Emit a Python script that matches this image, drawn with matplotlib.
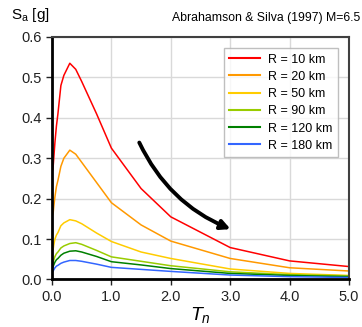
import numpy as np
import matplotlib
matplotlib.use("Agg")
import matplotlib.pyplot as plt
from matplotlib.patches import FancyArrowPatch

plt.rcParams['font.family'] = ['Liberation Sans', 'DejaVu Sans']
plt.rcParams['mathtext.fontset'] = 'custom'
plt.rcParams['mathtext.rm'] = 'Liberation Sans'
plt.rcParams['mathtext.it'] = 'Liberation Sans:italic'

# spectral periods (s)
periods = [0.01, 0.02, 0.03, 0.05, 0.075, 0.1, 0.15, 0.2, 0.3, 0.4, 0.5,
           0.75, 1.0, 1.5, 2.0, 3.0, 4.0, 5.0]

labels = ['R = 10 km', 'R = 20 km', 'R = 50 km', 'R = 90 km',
          'R = 120 km', 'R = 180 km']
colors = ['#ff0000', '#ff9900', '#ffcc00', '#99cc00', '#008000', '#3366ff']

sa_10 = [0.27, 0.28, 0.30, 0.34, 0.38, 0.41, 0.48, 0.505, 0.535, 0.52, 0.49,
         0.41, 0.325, 0.225, 0.155, 0.079, 0.046, 0.032]
sa_20 = [0.16, 0.165, 0.18, 0.205, 0.23, 0.245, 0.28, 0.30, 0.32, 0.31, 0.29,
         0.24, 0.19, 0.135, 0.095, 0.052, 0.029, 0.021]
sa_50 = [0.071, 0.075, 0.085, 0.10, 0.11, 0.116, 0.133, 0.14, 0.148, 0.145,
         0.138, 0.115, 0.094, 0.068, 0.052, 0.026, 0.015, 0.010]
sa_90 = [0.040, 0.043, 0.048, 0.057, 0.064, 0.068, 0.078, 0.083, 0.089, 0.091,
         0.087, 0.072, 0.056, 0.045, 0.034, 0.019, 0.012, 0.009]
sa_120 = [0.029, 0.032, 0.036, 0.043, 0.049, 0.052, 0.060, 0.065, 0.070,
          0.071, 0.068, 0.057, 0.044, 0.036, 0.027, 0.015, 0.010, 0.007]
sa_180 = [0.019, 0.021, 0.024, 0.029, 0.033, 0.035, 0.040, 0.043, 0.047,
          0.047, 0.045, 0.038, 0.030, 0.025, 0.020, 0.011, 0.007, 0.005]
series = [sa_10, sa_20, sa_50, sa_90, sa_120, sa_180]

fig = plt.figure(figsize=(3.62, 3.27), dpi=100)
ax = fig.add_axes([0.1436, 0.1453, 0.8204, 0.7416])

for ys, c, lab in zip(series, colors, labels):
    ax.plot(periods, ys, color=c, lw=1.1, label=lab)

ax.set_xlim(0, 5)
ax.set_ylim(0, 0.6)
ax.set_xticks(np.arange(0, 5.1, 1.0))
ax.set_xticklabels(['%.1f' % v for v in np.arange(0, 5.1, 1.0)])
ax.set_yticks(np.arange(0, 0.61, 0.1))
ax.set_yticklabels(['%.1f' % v for v in np.arange(0, 0.61, 0.1)])
ax.tick_params(labelsize=10.5, length=4, width=1, direction='out', colors='#222222')
ax.grid(True, color='#d9d9d9', lw=1)
ax.set_axisbelow(True)

for s in ['left', 'bottom']:
    ax.spines[s].set_color('black')
    ax.spines[s].set_linewidth(2)
for s in ['top', 'right']:
    ax.spines[s].set_color('#404040')
    ax.spines[s].set_linewidth(1.5)

leg = ax.legend(loc='upper right', bbox_to_anchor=(0.963, 0.955), fontsize=9,
                frameon=True, fancybox=False, handlelength=2.5,
                borderpad=0.45, labelspacing=0.42, handletextpad=0.6,
                borderaxespad=0)
leg.get_frame().set_edgecolor('#b0b0b0')
leg.get_frame().set_linewidth(1)
for ln in leg.get_lines():
    ln.set_linewidth(1.5)

arrow = FancyArrowPatch((1.45, 0.345), (3.05, 0.122),
                        connectionstyle='arc3,rad=0.2', arrowstyle='-|>',
                        mutation_scale=14, lw=2.8, color='black')
ax.add_patch(arrow)

fig.text(0.03, 0.955, r'S$_\mathrm{a}$ [g]', fontsize=11, va='center', ha='left')
fig.text(0.995, 0.945, 'Abrahamson & Silva (1997) M=6.5', fontsize=8.8,
         va='center', ha='right')
ax.set_xlabel(r'$T_n$', fontsize=14, labelpad=1)

fig.savefig('out.png', dpi=100)
